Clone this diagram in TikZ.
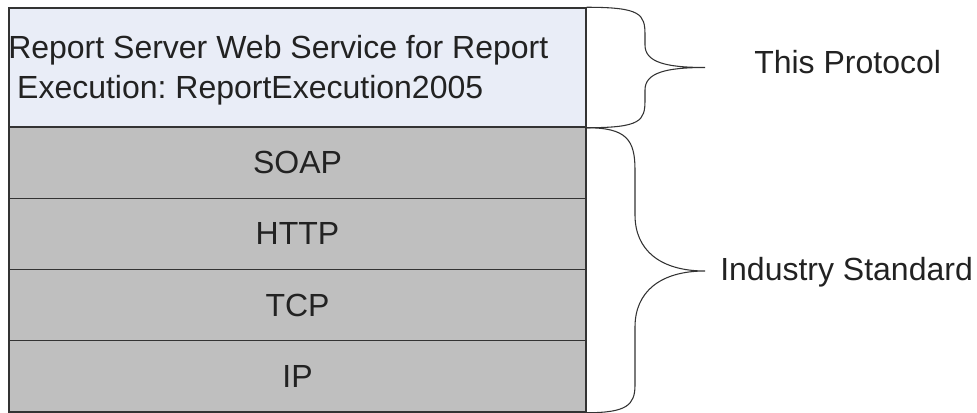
\documentclass[tikz,border=0pt]{standalone}
\usepackage{fontspec}
\setmainfont{Liberation Sans}
\usetikzlibrary{positioning}
\definecolor{layerblue}{HTML}{E9EDF7}
\definecolor{layergray}{HTML}{BFBFBF}
\definecolor{edgedark}{HTML}{333333}
\definecolor{textdark}{HTML}{222222}
\frenchspacing

\begin{document}
\begin{tikzpicture}[x=0.75pt, y=-0.75pt,
    layer/.style={rectangle, draw=edgedark, line width=1.1pt, fill=#1, minimum width=432.75pt, minimum height=53.44pt, inner sep=0pt, font=\fontsize{24}{30}\selectfont, text=textdark},
    brace/.style={draw=edgedark, line width=0.8pt},
    side/.style={font=\fontsize{24}{30}\selectfont, text=textdark, inner sep=0pt, anchor=base west},
]
\useasboundingbox (0,0) rectangle (977,413);

% protocol layer
\node[layer=layerblue, minimum height=89.25pt] (proto) at (297.5,67.5) {};
\node[anchor=north west, inner sep=0pt, align=left, font=\fontsize{24}{30}\selectfont, text=textdark] (title) at (8,30) {\strut Report Server Web Service for Report\\\strut\ Execution: ReportExecution2005};

% standard layers
\foreach \i/\n/\t in {0/soap/SOAP, 1/http/HTTP, 2/tcp/TCP, 3/ip/IP} {
    \node[layer=layergray] (\n) at (297.5,{162.625+71.25*\i}) {\t};
}

% braces
\coordinate (ptip) at (705,67.5);
\coordinate (stip) at (705,271);
\draw[brace] (proto.north east) .. controls +(54,0) and +(0,-21) .. (645,35) -- (645,45)
    .. controls +(0,17) and +(-40,0) .. (ptip)
    .. controls +(-40,0) and +(0,-17) .. (645,90) -- (645,100)
    .. controls +(0,21) and +(54,0) .. (proto.south east);
\draw[brace] (proto.south east) .. controls +(40,0) and +(0,-30) .. (635,170) -- (635,215)
    .. controls +(0,35) and +(-45,0) .. (stip)
    .. controls +(-45,0) and +(0,-35) .. (635,327) -- (635,385)
    .. controls +(0,20) and +(40,0) .. (ip.south east);

\node[side] (thisproto) at (754,74) {This Protocol};
\node[side] (industry) at (720,280) {Industry Standard};

\end{tikzpicture}
\end{document}
